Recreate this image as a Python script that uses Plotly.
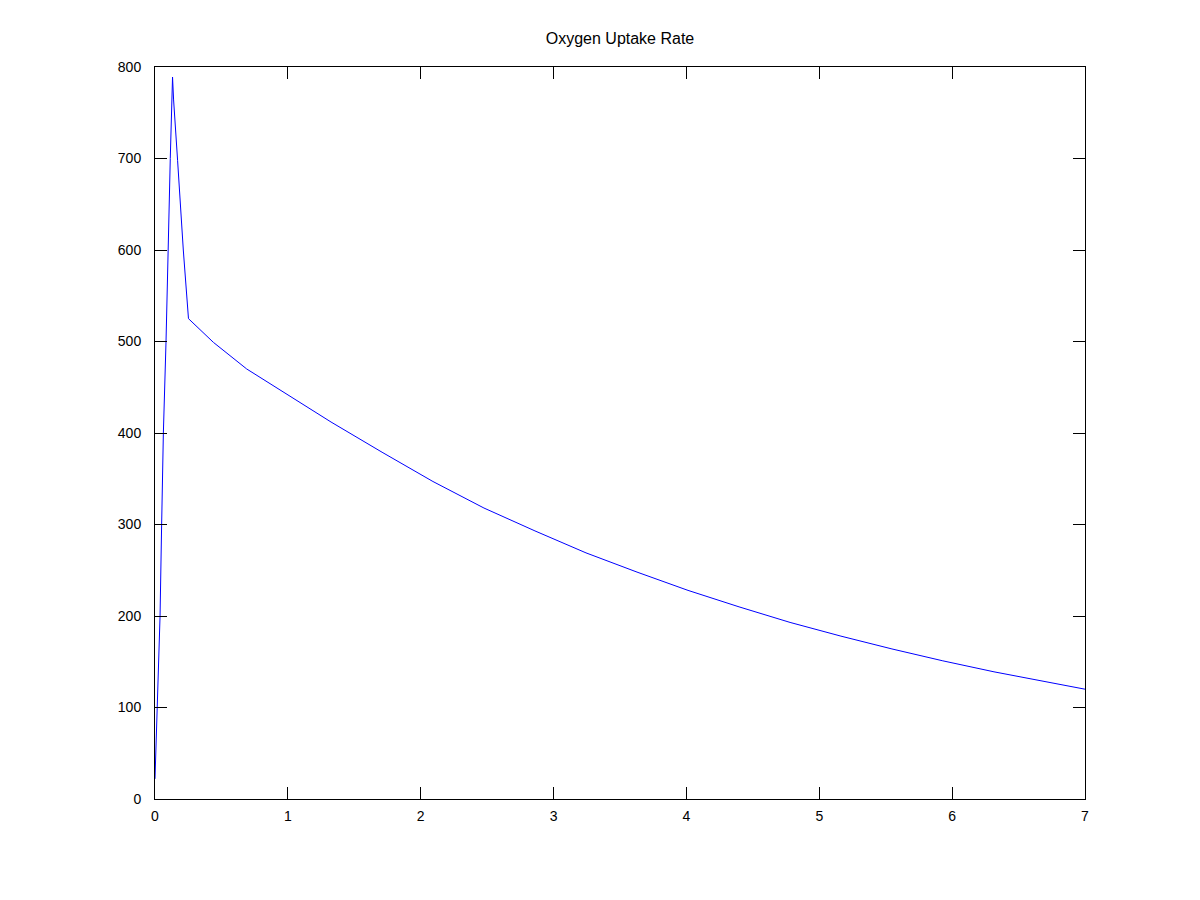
import plotly.graph_objects as go

# Time values (x) and oxygen uptake rate (y)
time = [0.0, 0.017, 0.038, 0.05, 0.063, 0.083, 0.098, 0.115, 0.132,
        0.14, 0.17, 0.213, 0.252,
        0.44, 0.69, 0.941, 1.325, 1.709, 2.092, 2.476, 2.86, 3.244,
        3.628, 4.012, 4.396, 4.78, 5.163, 5.547, 5.93, 6.315, 6.699, 7.0]
uptake = [22, 100, 200, 300, 400, 500, 600, 700, 789,
          764, 698, 600, 525,
          499, 470, 447, 412, 379, 347, 318, 293, 269,
          248, 228, 210, 193, 178, 164, 151, 139, 128, 120]

x_ticks = [0, 1, 2, 3, 4, 5, 6, 7]
y_ticks = [0, 100, 200, 300, 400, 500, 600, 700, 800]

font_family = "Liberation Sans, Arial, sans-serif"

fig = go.Figure()
fig.add_trace(go.Scatter(x=time, y=uptake, mode="lines",
                         line=dict(color="#0000ff", width=1),
                         showlegend=False))

axis_common = dict(
    showgrid=False, zeroline=False, showline=True, linecolor="black",
    linewidth=1, mirror="ticks", ticks="inside", ticklen=12,
    tickcolor="black", tickwidth=1,
    tickfont=dict(family=font_family, size=14, color="black"),
)

fig.update_layout(
    width=1200, height=900,
    paper_bgcolor="white", plot_bgcolor="white",
    margin=dict(l=147, r=123, t=59, b=109),
    title=dict(text="Oxygen Uptake Rate", x=(147 + (1200 - 123 - 147) / 2) / 1200,
               xanchor="center", y=1 - 30 / 900, yanchor="middle",
               font=dict(family=font_family, size=16, color="black")),
    xaxis=dict(range=[0, 7], tickvals=x_ticks, ticklabelstandoff=4, **axis_common),
    yaxis=dict(range=[0, 800], tickvals=y_ticks, ticklabelstandoff=10, **axis_common),
)

fig.write_html("out.html")
